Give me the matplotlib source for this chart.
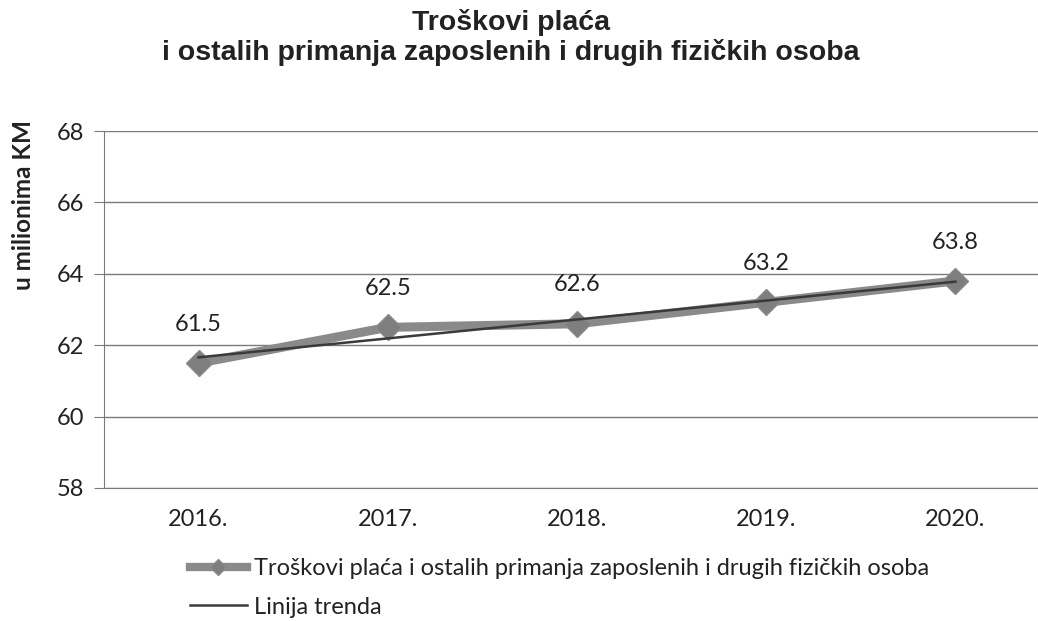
import numpy as np
import matplotlib
matplotlib.use("Agg")
import matplotlib.pyplot as plt
from matplotlib.lines import Line2D

years = ["2016.", "2017.", "2018.", "2019.", "2020."]
values = [61.5, 62.5, 62.6, 63.2, 63.8]
value_labels = ["61.5", "62.5", "62.6", "63.2", "63.8"]
yticks = [58, 60, 62, 64, 66, 68]

series_name = "Troškovi plaća i ostalih primanja zaposlenih i drugih fizičkih osoba"
trend_name = "Linija trenda"

plt.rcParams['font.family'] = ['Lato', 'DejaVu Sans']

fig = plt.figure(figsize=(10.38, 6.21), dpi=100)
# plot area runs past the right edge like the cropped original
ax = fig.add_axes([104 / 1038, 1 - 488 / 621, 946 / 1038, 357 / 621])

x = np.arange(len(years))
ax.plot(x, values, color="#8a8a8a", lw=6.5, marker="D", ms=13,
        markerfacecolor="#7e7e7e", markeredgecolor="#8a8a8a", zorder=3,
        solid_joinstyle="round")

# linear trend line
slope, icpt = np.polyfit(x, values, 1)
ax.plot(x, slope * x + icpt, color="#3a3a3a", lw=1.8, zorder=4)

for xi, v, lab in zip(x, values, value_labels):
    ax.annotate(lab, (xi, v), xytext=(0, 28), textcoords="offset points",
                ha="center", va="center", fontsize=17, color="#222222")

ax.set_xlim(-0.5, len(years) - 0.5)
ax.set_ylim(58, 68)
ax.set_yticks(yticks)
ax.set_xticks(x)
ax.set_xticklabels(years)
ax.grid(axis="y", color="#7a7a7a", lw=1)
ax.set_axisbelow(True)
for s in ["top", "right"]:
    ax.spines[s].set_visible(False)
ax.spines["left"].set_color("#7a7a7a")
ax.spines["bottom"].set_color("#7a7a7a")
ax.tick_params(axis="y", length=7, color="#7a7a7a", labelsize=17, pad=7, labelcolor="#222222")
ax.tick_params(axis="x", length=0, labelsize=17, pad=15, labelcolor="#222222")

fig.text(0.492, 1 - 22 / 621, "Troškovi plaća", ha="center", va="center",
         fontsize=20.5, fontweight="bold", family="Liberation Sans", color="#222222")
fig.text(0.492, 1 - 52 / 621, "i ostalih primanja zaposlenih i drugih fizičkih osoba", ha="center",
         va="center", fontsize=20.5, fontweight="bold", family="Liberation Sans", color="#222222")
fig.text(24 / 1038, 1 - 205 / 621, "u milionima KM", rotation=90, ha="center", va="center",
         fontsize=17.5, fontweight="bold", color="#222222")

handles = [Line2D([], [], color="#8a8a8a", lw=6, marker="D", ms=8,
                  markerfacecolor="#7e7e7e", markeredgecolor="#8a8a8a"),
           Line2D([], [], color="#3a3a3a", lw=1.8)]
fig.legend(handles, [series_name, trend_name], loc="upper left",
           bbox_to_anchor=(190 / 1038, 1 - 558 / 621), frameon=False,
           fontsize=17, handlelength=2.4, handletextpad=0.3, labelspacing=0.75,
           labelcolor="#222222", borderaxespad=0, borderpad=0)

fig.savefig("out.png", dpi=100)
